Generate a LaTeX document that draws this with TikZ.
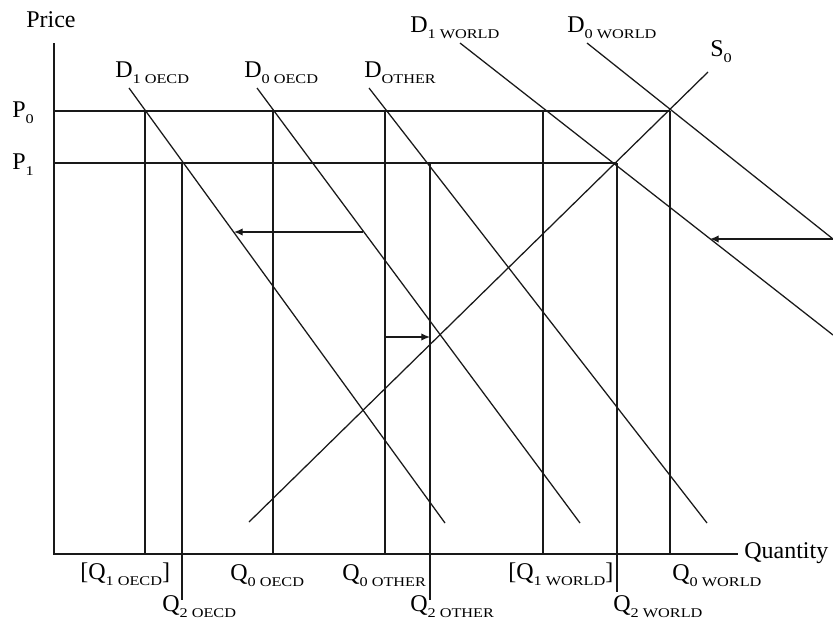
\documentclass[tikz,border=0pt]{standalone}
\usepackage{fontspec}
\setmainfont{Liberation Serif}
\newfontfamily\subfam[FakeStretch=1.22]{Liberation Serif}
\usetikzlibrary{arrows.meta}
\newcommand\sbx[1]{\raisebox{-4.5pt}{\fontsize{10}{11}\subfam #1}}
\begin{document}
\begin{tikzpicture}[x=0.75pt,y=-0.75pt,
  lbl/.style={anchor=base west,inner sep=0pt,font=\fontsize{18}{21}\selectfont},
  ln/.style={line width=0.95pt,black!90},
  arr/.style={line width=0.95pt,black!90,-{Latex[length=6.5pt,width=5.5pt]}}]
\useasboundingbox (0,0) rectangle (833,618);
% axes
\coordinate (O) at (54,554);
\coordinate (ytop) at (54,43);
\coordinate (xend) at (738,554);
\draw[ln] (ytop) -- (O) -- (xend);
% price lines
\coordinate (p0l) at (54,111); \coordinate (E0) at (670,111);
\coordinate (p1l) at (54,163); \coordinate (E1) at (617,163);
\draw[ln] (p0l) -- (E0);
\draw[ln] (p1l) -- (E1);
% verticals
\coordinate (q1oT) at (145,111); \coordinate (q1oB) at (145,554);
\coordinate (q2oT) at (182,163); \coordinate (q2oB) at (182,600);
\coordinate (q0oT) at (273,111); \coordinate (q0oB) at (273,554);
\coordinate (q0tT) at (385,111); \coordinate (q0tB) at (385,554);
\coordinate (q2tT) at (430,163); \coordinate (q2tB) at (430,600);
\coordinate (q1wT) at (543,111); \coordinate (q1wB) at (543,554);
\coordinate (q2wT) at (617,163); \coordinate (q2wB) at (617,592);
\coordinate (q0wT) at (670,111); \coordinate (q0wB) at (670,554);
\foreach \a in {q1o,q2o,q0o,q0t,q2t,q1w,q2w,q0w} \draw[ln] (\a T) -- (\a B);
% demand and supply curves
\coordinate (d1oA) at (129,88);  \coordinate (d1oB) at (445,523);
\coordinate (d0oA) at (257,88);  \coordinate (d0oB) at (580,523);
\coordinate (dtA) at (369,88);   \coordinate (dtB) at (707,523);
\coordinate (sA) at (249,522);   \coordinate (sB) at (708,72);
\coordinate (d1wA) at (460,43);  \coordinate (d1wB) at (833,335);
\coordinate (d0wA) at (587,43);  \coordinate (d0wB) at (833,239);
\draw[ln] (d1oA) -- (d1oB);
\draw[ln] (d0oA) -- (d0oB);
\draw[ln] (dtA) -- (dtB);
\draw[ln] (sA) -- (sB);
\draw[ln] (d1wA) -- (d1wB);
\draw[ln] (d0wA) -- (d0wB);
% shift arrows
\coordinate (aoS) at (363,232); \coordinate (aoE) at (234,232);
\coordinate (atS) at (385,337); \coordinate (atE) at (430,337);
\coordinate (awE) at (710,239);
\draw[arr] (aoS) -- (aoE);
\draw[arr] (atS) -- (atE);
\draw[arr] (d0wB) -- (awE);
% labels
\node[lbl] (price) at (26,27) {Price};
\node[lbl] (P0) at (12,117) {P\sbx{0}};
\node[lbl] (P1) at (12,169) {P\sbx{1}};
\node[lbl] (lD1o) at (115,77) {D\sbx{1 OECD}};
\node[lbl] (lD0o) at (244,77) {D\sbx{0 OECD}};
\node[lbl] (lDt) at (364,77) {D\sbx{OTHER}};
\node[lbl] (lD1w) at (410,32) {D\sbx{1 WORLD}};
\node[lbl] (lD0w) at (567,32) {D\sbx{0 WORLD}};
\node[lbl] (lS0) at (710,56) {S\sbx{0}};
\node[lbl] (lQ1o) at (80,579) {[Q\sbx{1 OECD}]};
\node[lbl] (lQ0o) at (230,580) {Q\sbx{0 OECD}};
\node[lbl] (lQ0t) at (342,580) {Q\sbx{0 OTHER}};
\node[lbl] (lQ1w) at (508,579) {[Q\sbx{1 WORLD}]};
\node[lbl] (lQ0w) at (672,580) {Q\sbx{0 WORLD}};
\node[lbl] (lQ2o) at (162,611) {Q\sbx{2 OECD}};
\node[lbl] (lQ2t) at (410,611) {Q\sbx{2 OTHER}};
\node[lbl] (lQ2w) at (613,611) {Q\sbx{2 WORLD}};
\node[lbl] (qty) at (744,558) {Quantity};
\end{tikzpicture}
\end{document}
